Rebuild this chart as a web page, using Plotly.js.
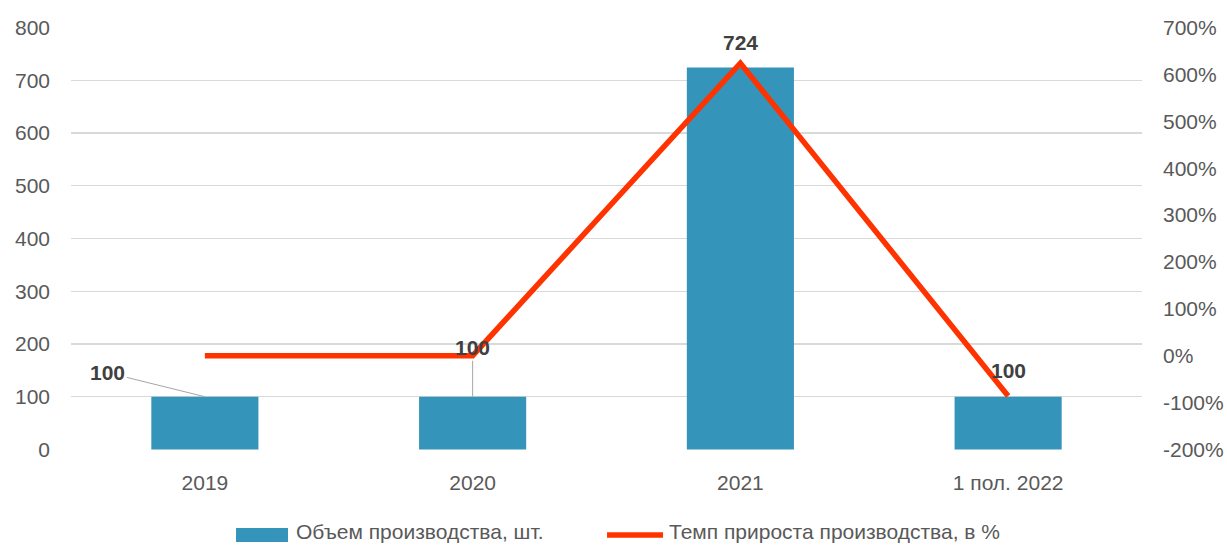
<!DOCTYPE html>
<html>
<head>
<meta charset="utf-8">
<script src="https://cdn.plot.ly/plotly-3.0.1.min.js"></script>
<style>html,body{margin:0;padding:0;background:#fff;}#chart{width:1227px;height:545px;}</style>
</head>
<body>
<div id="chart"></div>
<script>
const categories = ['2019', '2020', '2021', '1 пол. 2022'];
const volume = [100, 100, 724, 100];
const growthPct = [0, 0, 624, -86];
const seriesNames = ['Объем производства, шт.', 'Темп прироста производства, в %'];
const leftTicks = [0, 100, 200, 300, 400, 500, 600, 700, 800];
const rightTicks = [-200, -100, 0, 100, 200, 300, 400, 500, 600, 700];

const BAR_COLOR = '#3494BA';
const LINE_COLOR = '#FF3300';
const FONT = "'Liberation Sans', Arial, sans-serif";
const tickFont = {family: FONT, size: 21, color: '#595959'};
const labelFont = {family: FONT, size: 21, color: '#404040'};
const legendFont = {family: FONT, size: 21, color: '#595959'};

// tiny padding so the gridlines at 0 and 800 are drawn; right axis scaled to match
const PAD = 1;
const leftRange = [0 - PAD, 800 + PAD];
const rightRange = [-200 - PAD * 900 / 800, 700 + PAD * 900 / 800];

const traces = [
  {
    type: 'bar', x: categories, y: volume, name: seriesNames[0],
    marker: {color: BAR_COLOR}, width: 0.4, yaxis: 'y', hoverinfo: 'none', showlegend: false
  },
  {
    type: 'scatter', mode: 'lines', x: categories, y: growthPct, name: seriesNames[1],
    line: {color: LINE_COLOR, width: 5.5}, yaxis: 'y2', hoverinfo: 'none', showlegend: false
  }
];

// data labels (index-based x so numeric-looking category names are not read as indices)
const labelStyle = [
  {showarrow: true, ax: -97, ay: -24},
  {showarrow: true, ax: 0, ay: -49},
  {showarrow: false, yshift: 25},
  {showarrow: false, yshift: 26}
];
const annotations = volume.map(function(v, i) {
  return Object.assign({
    x: i, y: v, xref: 'x', yref: 'y', text: '<b>' + v + '</b>', font: labelFont,
    arrowhead: 0, arrowwidth: 1, arrowcolor: '#A6A6A6', standoff: 0
  }, labelStyle[i]);
});

// legend drawn as shapes + text below the plot
annotations.push(
  {xref: 'paper', yref: 'paper', x: 0.2082, y: -0.192, xanchor: 'left', yanchor: 'middle',
   text: seriesNames[0], showarrow: false, font: legendFont},
  {xref: 'paper', yref: 'paper', x: 0.5565, y: -0.192, xanchor: 'left', yanchor: 'middle',
   text: seriesNames[1], showarrow: false, font: legendFont}
);
const shapes = [
  {type: 'rect', xref: 'paper', yref: 'paper', x0: 0.1541, x1: 0.2026, y0: -0.2175, y1: -0.1844,
   fillcolor: BAR_COLOR, line: {width: 0}},
  {type: 'line', xref: 'paper', yref: 'paper', x0: 0.5005, x1: 0.5528, y0: -0.201, y1: -0.201,
   line: {color: LINE_COLOR, width: 5.5}}
];

const layout = {
  width: 1227, height: 545,
  margin: {l: 71, r: 85, t: 27, b: 95},
  paper_bgcolor: '#fff', plot_bgcolor: '#fff',
  showlegend: false,
  xaxis: {type: 'category', range: [-0.5, 3.5], autorange: false, tickfont: tickFont, showgrid: false, zeroline: false,
          showline: false, ticks: '', ticklabelstandoff: 18, automargin: false},
  yaxis: {range: leftRange, autorange: false, tickvals: leftTicks, ticktext: leftTicks.map(String), tickfont: tickFont,
          showgrid: true, gridcolor: '#D9D9D9', gridwidth: 1.3,
          zeroline: false, showline: false, ticks: '', ticklabelstandoff: 20, automargin: false},
  yaxis2: {range: rightRange, autorange: false, tickvals: rightTicks, ticktext: rightTicks.map(function(v){ return v + '%'; }),
           overlaying: 'y', side: 'right', tickfont: tickFont, showgrid: false, zeroline: false, showline: false,
           ticks: '', ticklabelstandoff: 20, automargin: false},
  annotations: annotations,
  shapes: shapes
};

Plotly.newPlot('chart', traces, layout, {displayModeBar: false, staticPlot: true});
</script>
</body>
</html>
